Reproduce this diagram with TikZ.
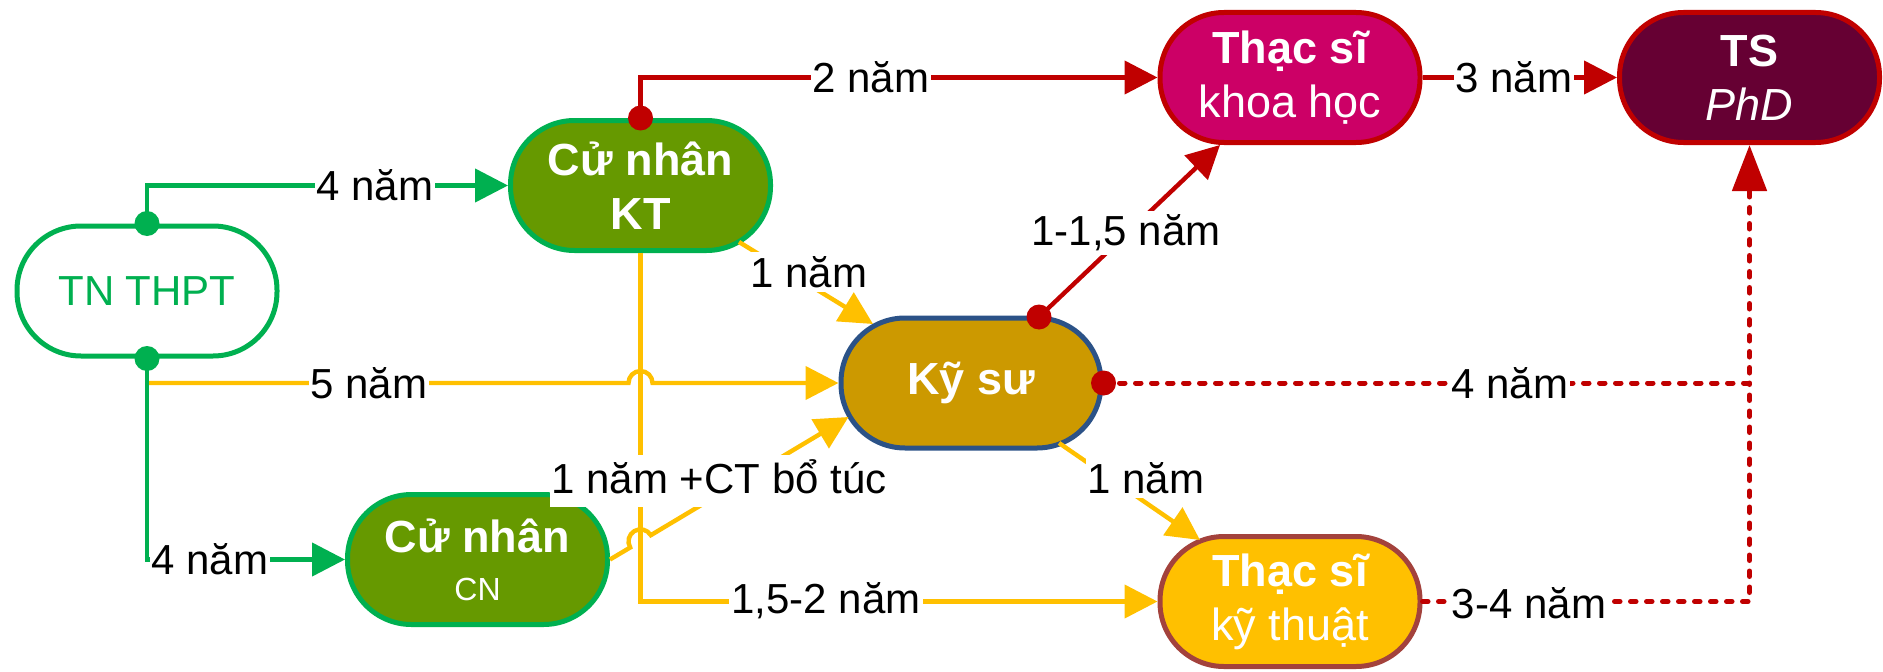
\documentclass[tikz,border=0pt]{standalone}
\usepackage{fontspec}
\setmainfont{Liberation Sans}
\usetikzlibrary{arrows.meta,calc}
\definecolor{cgreen}{HTML}{00B050}
\definecolor{colive}{HTML}{669900}
\definecolor{cgold}{HTML}{CC9900}
\definecolor{cnavy}{HTML}{2B5287}
\definecolor{cmagenta}{HTML}{CC0066}
\definecolor{cwine}{HTML}{660033}
\definecolor{cred}{HTML}{C00000}
\definecolor{camber}{HTML}{FFC000}
\definecolor{cbrick}{HTML}{A3423C}
\begin{document}
\begin{tikzpicture}[x=0.5pt,y=0.5pt,
  stage/.style={rectangle, rounded corners=32pt, minimum width=130pt, minimum height=65pt,
    line width=2.5pt, inner sep=0pt, align=center, text=white,
    font=\fontsize{22.5}{27}\selectfont},
  lbl/.style={fill=white, inner xsep=1pt, inner ysep=2pt, text=black,
    font=\fontsize{21}{24}\selectfont},
  link/.style={line width=2.2pt},
  tip/.style={-{Triangle[length=16.5pt,width=16.5pt]}},
  dotlink/.style={line width=2.5pt, line cap=round, dash pattern=on 2.75pt off 5.25pt},
  knot/.style={circle, inner sep=0pt, minimum size=12.5pt}]
\useasboundingbox (0,0) rectangle (1883,671);

% stages of study
\node[stage, draw=cgreen, fill=white, text=cgreen, font=\fontsize{21}{25}\selectfont]
  (thpt) at (147,380) {TN THPT};
\node[stage, draw=cgreen, fill=colive] (cnkt) at (640.5,485.5)
  {{\bfseries Cử nhân}\\{\bfseries KT}};
\node[stage, draw=cnavy, fill=cgold] (kysu) at (971,288) {\bfseries Kỹ sư};
\node[stage, draw=cgreen, fill=colive] (cncn) at (477.5,111.5)
  {{\bfseries Cử nhân}\\[-3pt]{\fontsize{16}{19}\selectfont CN}};
\node[stage, draw=cred, fill=cmagenta] (thkh) at (1290,593.5)
  {{\bfseries Thạc sĩ}\\khoa học};
\node[stage, draw=cred, fill=cwine] (ts) at (1749.5,593.5)
  {{\bfseries TS}\\{\itshape PhD}};
\node[stage, draw=cbrick, fill=camber] (thkt) at (1290,69.5)
  {{\bfseries Thạc sĩ}\\kỹ thuật};

% yellow routes
\coordinate (j5) at (thpt.south |- kysu.west);
\coordinate (hx) at (cnkt.south |- kysu.west);
\draw[link, camber, tip] (j5) -- ($(hx)+(-12,0)$)
  arc[start angle=180, end angle=0, radius=12] -- (kysu.west);
\draw[link, camber, tip] (cnkt.south) |- (thkt.west);
\draw[link, camber, tip] ($(cnkt.center)+(98.5,-56.5)$) -- ($(kysu.center)+(-98,59)$);
\draw[link, camber, tip] (cncn.east) -- (630.2,123.5)
  arc[start angle=210.86, end angle=30.86, radius=12] -- ($(kysu.center)+(-122.5,-34)$);
\draw[link, camber, tip] ($(kysu.center)+(88,-60)$) -- ($(thkt.center)+(-90,61.5)$);

% green routes
\draw[link, cgreen, tip] (thpt.north) |- (cnkt.west);
\draw[link, cgreen, tip] (thpt.south) |- (cncn.west);

% red routes
\draw[link, cred, tip] (cnkt.north) |- (thkh.west);
\draw[link, cred, tip] ($(kysu.center)+(68,66)$) -- ($(thkh.center)+(-70,-67.5)$);
\draw[link, cred, tip] (thkh.east) -- (ts.west);
\coordinate (jr) at (ts.south |- kysu.east);
\draw[dotlink, cred] (thkt.east) -| (jr);
\draw[dotlink, cred, -{Triangle[length=23pt,width=17pt]}] (kysu.east) -| (ts.south);

% branch points
\node[knot, fill=cgreen] (d1) at (thpt.north) {};
\node[knot, fill=cgreen] (d2) at (thpt.south) {};
\node[knot, fill=cred] (d3) at (cnkt.north) {};
\node[knot, fill=cred] (d4) at ($(kysu.center)+(68,66)$) {};
\node[knot, fill=cred] (d5) at (kysu.east) {};

% durations
\node[lbl] (l1) at (375,485.5) {4 năm};
\node[lbl] (l2) at (210,112) {4 năm};
\node[lbl] (l3) at (369,288) {5 năm};
\node[lbl] (l4) at (826,70) {1,5-2 năm};
\node[lbl] (l5) at (809,399) {1 năm};
\node[lbl, anchor=base, text depth=5pt] (l6) at (719,178) {1 năm +CT bổ túc};
\node[lbl] (l7) at (1126,438) {1-1,5 năm};
\node[lbl] (l8) at (1146,193) {1 năm};
\node[lbl] (l9) at (871,593.5) {2 năm};
\node[lbl] (l10) at (1514,593.5) {3 năm};
\node[lbl] (l11) at (1510,288) {4 năm};
\node[lbl] (l12) at (1529,68) {3-4 năm};
\end{tikzpicture}
\end{document}
